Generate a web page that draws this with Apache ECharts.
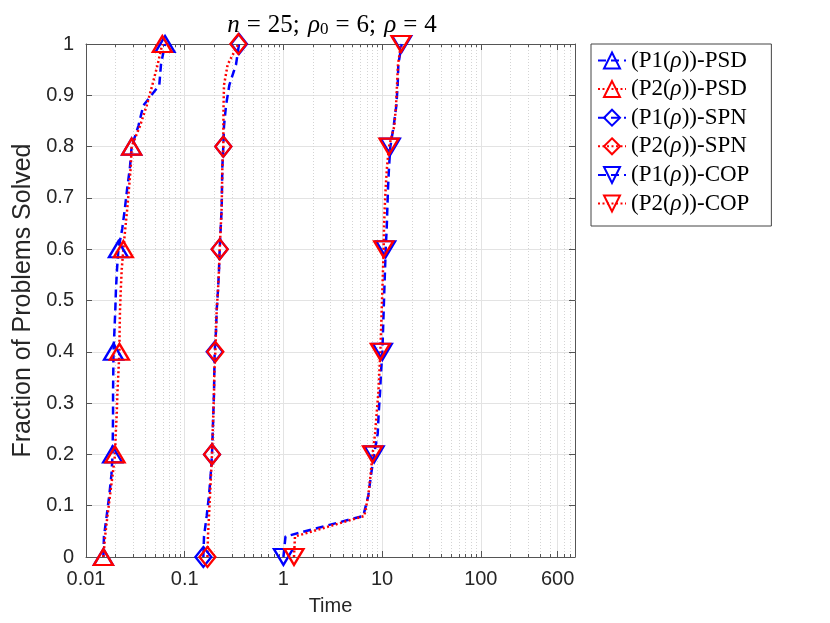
<!DOCTYPE html>
<html><head><meta charset="utf-8">
<script src="https://cdn.jsdelivr.net/npm/echarts@6/dist/echarts.min.js"></script>
<style>html,body{margin:0;padding:0;background:#fff}#c{width:830px;height:623px}</style>
</head><body><div id="c"></div>
<script>
// ---- data ----
const fractions = [0,0.04,0.08,0.12,0.16,0.2,0.24,0.28,0.32,0.36,0.4,0.44,0.48,0.52,0.56,0.6,0.64,0.68,0.72,0.76,0.8,0.84,0.88,0.92,0.96,1];
const markerIdx = [0,5,10,15,20,25];
const p1PSD = [0.0150,0.0152,0.0162,0.0172,0.0181,0.0186,0.0187,0.0188,0.0188,0.0189,0.0190,0.0194,0.0198,0.0201,0.0206,0.0213,0.0233,0.0248,0.0262,0.0279,0.0290,0.0339,0.0381,0.0553,0.0575,0.0632];
const p2PSD = [0.0150,0.0156,0.0165,0.0175,0.0186,0.0197,0.0200,0.0205,0.0208,0.0213,0.0218,0.0219,0.0221,0.0225,0.0230,0.0239,0.0250,0.0262,0.0273,0.0284,0.0290,0.0352,0.0412,0.0470,0.0532,0.0593];
const p1SPN = [0.1545,0.1569,0.1670,0.1763,0.1833,0.1891,0.1920,0.1950,0.1981,0.1996,0.2012,0.2075,0.2108,0.2174,0.2226,0.2261,0.2314,0.2369,0.2387,0.2406,0.2462,0.2501,0.2621,0.2833,0.3311,0.3551];
const p2SPN = [0.1700,0.1720,0.1763,0.1804,0.1847,0.1891,0.1920,0.1950,0.1981,0.1996,0.2044,0.2075,0.2108,0.2174,0.2226,0.2261,0.2314,0.2369,0.2387,0.2406,0.2462,0.2465,0.2475,0.2501,0.2725,0.3496];
const p1COP = [1.00,1.05,6.45,7.25,7.72,8.30,9.02,9.23,9.52,9.75,10.06,10.21,10.37,10.53,10.70,10.87,11.13,11.30,11.48,11.75,12.12,13.10,13.94,14.38,14.60,15.79];
const p2COP = [1.28,1.31,6.61,7.25,7.64,8.00,8.48,8.81,9.16,9.38,9.60,9.75,9.90,10.06,10.21,10.37,10.45,10.62,10.87,11.21,11.75,13.30,13.83,14.16,14.49,15.54];
const seriesNames = ['(P1(ρ))-PSD','(P2(ρ))-PSD','(P1(ρ))-SPN','(P2(ρ))-SPN','(P1(ρ))-COP','(P2(ρ))-COP'];
const xMajorTicks = [0.01,0.1,1,10,100,600];
const yTicks = [0,0.1,0.2,0.3,0.4,0.5,0.6,0.7,0.8,0.9,1];
const titleText = '{i|n}{e|=}25;{t| }{i|ρ}{s|0}{e|=}6;{t| }{i|ρ}{e|=}4';

// minor tick positions (2..9 per decade)
const xMinorTicks = [];
[0.01,0.1,1,10,100].forEach(d => { for (let k = 2; k <= 9; k++) { const v = +(k*d).toPrecision(6); if (v !== 600) xMinorTicks.push(v); } });

const BLUE = '#0000ff', RED = '#ff0000';
const AX = '#555555', TXT = '#262626';
const SANS = 'Liberation Sans', SERIF = 'Liberation Serif';
const DOWN_TRI = 'path://M0,0L20,0L10,17Z';

function mk(name, xs, color, dash, symbol, size) {
  return {
    name, type: 'line', xAxisIndex: 0, yAxisIndex: 0,
    data: xs.map((x, i) => markerIdx.includes(i) ? { value: [x, fractions[i]] } : { value: [x, fractions[i]], symbol: 'none' }),
    symbol, symbolSize: size, showSymbol: true, showAllSymbol: true,
    lineStyle: { color, width: 2.5, type: dash, cap: 'butt' },
    itemStyle: { color: 'rgba(255,255,255,0)', borderColor: color, borderWidth: 2.3 },
    emphasis: { disabled: true }, clip: false, animation: false
  };
}
const dashB = [8, 5], dotR = [2, 2.5];
const series = [
  mk(seriesNames[0], p1PSD, BLUE, dashB, 'triangle', [19, 16]),
  mk(seriesNames[1], p2PSD, RED, dotR, 'triangle', [19, 16]),
  mk(seriesNames[2], p1SPN, BLUE, dashB, 'diamond', [16, 20]),
  mk(seriesNames[3], p2SPN, RED, dotR, 'diamond', [16, 20]),
  mk(seriesNames[4], p1COP, BLUE, dashB, DOWN_TRI, [19, 16]),
  mk(seriesNames[5], p2COP, RED, dotR, DOWN_TRI, [19, 16])
];

const fmt = v => String(+Number(v).toPrecision(6));
const baseX = { type: 'log', logBase: 10, min: 0.01, max: 900, gridIndex: 0 };

const option = {
  backgroundColor: '#ffffff',
  animation: false,
  title: {
    text: titleText, left: 327, top: 7, textAlign: 'center',
    textStyle: {
      fontFamily: SERIF, fontSize: 25, fontWeight: 'normal', color: '#000',
      rich: {
        i: { fontFamily: SERIF, fontStyle: 'italic', fontSize: 25, color: '#000' },
        e: { fontFamily: SERIF, fontSize: 25, color: '#000', padding: [0, 7, 0, 7] },
        t: { fontFamily: SERIF, fontSize: 25, color: '#000', padding: [0, 2, 0, 0] },
        s: { fontFamily: SERIF, fontSize: 17, color: '#000', padding: [9, 0, 0, 0] }
      }
    }
  },
  grid: { left: 86, right: 255, top: 44, bottom: 66, containLabel: false },
  legend: {
    orient: 'vertical', left: 591, top: 44,
    padding: [5, 22, 11, 6], itemWidth: 28, itemHeight: 20, itemGap: 5.6,
    backgroundColor: '#fff', borderColor: '#444', borderWidth: 1,
    data: seriesNames,
    formatter: n => n.replace(/ρ/g, '{i|ρ}'),
    textStyle: {
      fontFamily: SERIF, fontSize: 23, color: '#000',
      rich: { i: { fontFamily: SERIF, fontStyle: 'italic', fontSize: 23, color: '#000' } }
    }
  },
  xAxis: [
    Object.assign({}, baseX, {
      position: 'bottom',
      name: 'Time', nameLocation: 'middle', nameGap: 39,
      nameTextStyle: { fontFamily: SANS, fontSize: 20, color: TXT },
      axisLine: { show: true, lineStyle: { color: AX, width: 1 } },
      axisTick: { show: true, inside: true, length: 6, customValues: xMajorTicks, lineStyle: { color: AX } },
      axisLabel: { show: true, customValues: xMajorTicks, formatter: fmt, margin: 12, color: TXT, fontSize: 20, fontFamily: SANS },
      splitLine: { show: true, lineStyle: { color: '#e3e3e3', width: 1 } },
      minorTick: { show: false }, minorSplitLine: { show: false }
    }),
    Object.assign({}, baseX, {
      position: 'bottom',
      axisLine: { show: false },
      axisTick: { show: true, inside: true, length: 3, customValues: xMinorTicks, lineStyle: { color: AX } },
      axisLabel: { show: false },
      splitLine: { show: true, lineStyle: { color: '#d4d4d4', width: 1, type: [1, 2] } }
    }),
    Object.assign({}, baseX, {
      position: 'top',
      axisLine: { show: true, lineStyle: { color: AX, width: 1 } },
      axisTick: { show: true, inside: true, length: 6, customValues: xMajorTicks, lineStyle: { color: AX } },
      axisLabel: { show: false }, splitLine: { show: false }
    }),
    Object.assign({}, baseX, {
      position: 'top',
      axisLine: { show: false },
      axisTick: { show: true, inside: true, length: 3, customValues: xMinorTicks, lineStyle: { color: AX } },
      axisLabel: { show: false }, splitLine: { show: false }
    })
  ],
  yAxis: [
    {
      type: 'value', min: 0, max: 1, interval: 0.1, position: 'left',
      name: 'Fraction of Problems Solved', nameLocation: 'middle', nameGap: 48,
      nameTextStyle: { fontFamily: SANS, fontSize: 25, color: TXT },
      axisLine: { show: true, lineStyle: { color: AX, width: 1 } },
      axisTick: { show: true, inside: true, length: 6, lineStyle: { color: AX } },
      axisLabel: { margin: 12, color: TXT, fontSize: 20, fontFamily: SANS, customValues: yTicks, formatter: fmt },
      splitLine: { show: true, lineStyle: { color: '#e3e3e3', width: 1 } }
    },
    {
      type: 'value', min: 0, max: 1, interval: 0.1, position: 'right',
      axisLine: { show: true, lineStyle: { color: AX, width: 1 } },
      axisTick: { show: true, inside: true, length: 6, lineStyle: { color: AX } },
      axisLabel: { show: false }, splitLine: { show: false }
    }
  ],
  series
};
const chart = echarts.init(document.getElementById('c'), null, { renderer: 'canvas' });
chart.setOption(option);
</script></body></html>
